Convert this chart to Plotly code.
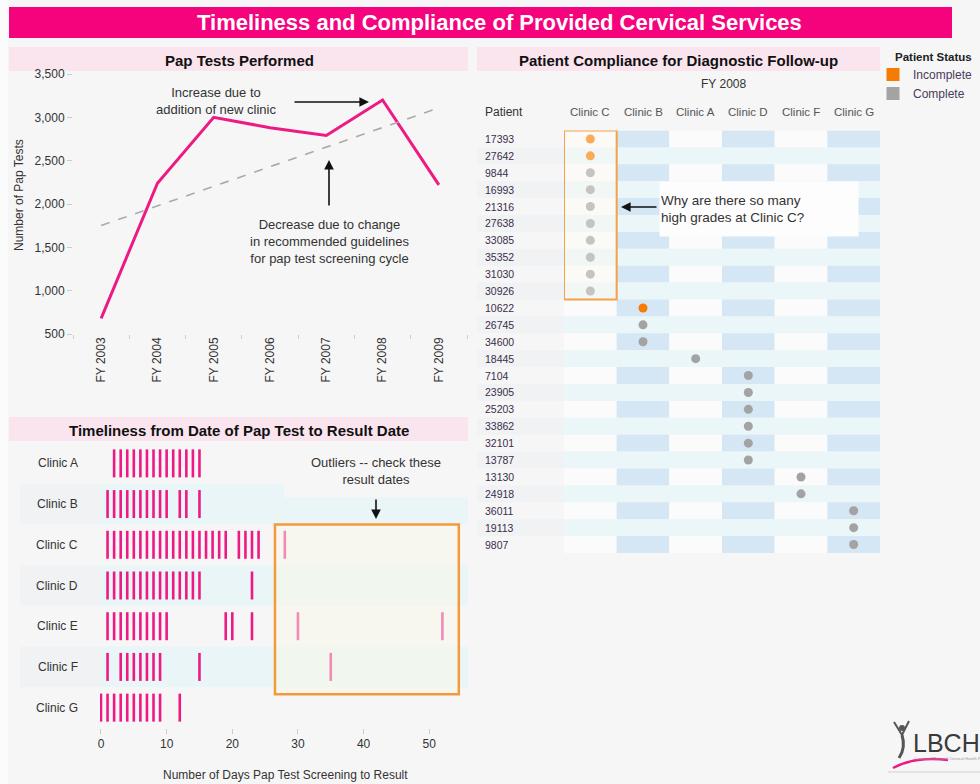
import plotly.graph_objects as go
import numpy as np

W, H = 980, 784


def X(px):
    return px / W


def Y(py):
    return 1 - py / H


# ---------------- DATA ----------------
fiscal_years = ["FY 2003", "FY 2004", "FY 2005", "FY 2006", "FY 2007", "FY 2008", "FY 2009"]
pap_tests = [680, 2240, 3000, 2880, 2790, 3200, 2220]

timeliness_clinics = ["Clinic A", "Clinic B", "Clinic C", "Clinic D", "Clinic E", "Clinic F", "Clinic G"]
days_clinic_a = [2, 3, 4, 5, 6, 7, 8, 9, 10, 11, 12, 13, 14, 15]
days_clinic_b = [1, 2, 3, 4, 5, 6, 7, 8, 9, 10, 12, 13, 15]
days_clinic_c = [1, 2, 3, 4, 5, 6, 7, 8, 9, 10, 11, 12, 13, 14, 15, 16, 17, 18, 19, 21, 22, 23, 24, 28]
days_clinic_d = [1, 2, 3, 4, 5, 6, 7, 8, 9, 10, 11, 12, 13, 14, 15, 23]
days_clinic_e = [1, 2, 3, 4, 5, 6, 7, 8, 9, 10, 19, 20, 23, 30, 52]
days_clinic_f = [1, 3, 4, 5, 6, 7, 8, 9, 15, 35]
days_clinic_g = [0, 1, 2, 3, 4, 5, 6, 7, 8, 9, 12]
days_by_clinic = [days_clinic_a, days_clinic_b, days_clinic_c, days_clinic_d,
                  days_clinic_e, days_clinic_f, days_clinic_g]
day_ticks = [0, 10, 20, 30, 40, 50]

compliance_clinics = ["Clinic C", "Clinic B", "Clinic A", "Clinic D", "Clinic F", "Clinic G"]
patients = ["17393", "27642", "9844", "16993", "21316", "27638", "33085", "35352", "31030", "30926",
            "10622", "26745", "34600", "18445", "7104", "23905", "25203", "33862", "32101", "13787",
            "13130", "24918", "36011", "19113", "9807"]
patient_clinic = ["Clinic C", "Clinic C", "Clinic C", "Clinic C", "Clinic C", "Clinic C", "Clinic C",
                  "Clinic C", "Clinic C", "Clinic C", "Clinic B", "Clinic B", "Clinic B", "Clinic A",
                  "Clinic D", "Clinic D", "Clinic D", "Clinic D", "Clinic D", "Clinic D",
                  "Clinic F", "Clinic F", "Clinic G", "Clinic G", "Clinic G"]
patient_status = ["Incomplete", "Incomplete", "Complete", "Complete", "Complete", "Complete", "Complete",
                  "Complete", "Complete", "Complete", "Incomplete", "Complete", "Complete", "Complete",
                  "Complete", "Complete", "Complete", "Complete", "Complete", "Complete",
                  "Complete", "Complete", "Complete", "Complete", "Complete"]
status_colors = {"Incomplete": "#F57C00", "Complete": "#A3A3A3"}

# ---------------- STYLE ----------------
FONT = "Liberation Sans, Arial, sans-serif"
PANEL_BG = "#F6F6F6"
HEADER_PINK = "#FAE5EF"
MAGENTA = "#EE1A84"
TXT = "#333333"

fig = go.Figure()

# ---- Pap tests line chart ----
fig.add_trace(go.Scatter(
    x=fiscal_years, y=pap_tests, mode="lines",
    line=dict(color=MAGENTA, width=3), xaxis="x", yaxis="y", showlegend=False))
idx = np.arange(len(pap_tests))
slope, intercept = np.polyfit(idx, pap_tests, 1)
trend = slope * idx + intercept
fig.add_trace(go.Scatter(
    x=[fiscal_years[0], fiscal_years[-1]], y=[trend[0], trend[-1]], mode="lines",
    line=dict(color="#AAAAAA", width=1.6, dash="dash"), xaxis="x", yaxis="y", showlegend=False))

# ---- Timeliness strip chart ----
strip_x, strip_y = [], []
for clinic, days in zip(timeliness_clinics, days_by_clinic):
    strip_x += days
    strip_y += [clinic] * len(days)
fig.add_trace(go.Scatter(
    x=strip_x, y=strip_y, mode="markers",
    marker=dict(symbol="line-ns", size=20, line=dict(color=MAGENTA, width=2.6)),
    xaxis="x2", yaxis="y2", showlegend=False))

# ---- Patient compliance dots ----
for status in ["Incomplete", "Complete"]:
    xs = [c for c, s in zip(patient_clinic, patient_status) if s == status]
    ys = [p for p, s in zip(patients, patient_status) if s == status]
    fig.add_trace(go.Scatter(
        x=xs, y=ys, mode="markers",
        marker=dict(symbol="circle", size=9, color=status_colors[status]),
        xaxis="x3", yaxis="y3", showlegend=False))
    fig.add_trace(go.Scatter(
        x=[None], y=[None], mode="markers", name=status,
        marker=dict(symbol="square", size=13, color=status_colors[status]),
        xaxis="x3", yaxis="y3", showlegend=True))

shapes = []
annotations = []


def ann(text, x, y, size=12, color=TXT, xref="paper", yref="paper", xanchor="center", yanchor="middle", **kw):
    d = dict(text=text, x=x, y=y, xref=xref, yref=yref, xanchor=xanchor, yanchor=yanchor,
             showarrow=False, font=dict(size=size, color=color, family=FONT))
    d.update(kw)
    annotations.append(d)


def arrow(hx, hy, ax, ay):
    annotations.append(dict(text="", x=X(hx), y=Y(hy), xref="paper", yref="paper", showarrow=True,
                            ax=ax, ay=ay, arrowhead=2, arrowsize=1.2, arrowwidth=1.6, arrowcolor="#111"))


# page background pieces
shapes.append(dict(type="rect", xref="paper", yref="paper", x0=0, x1=X(8), y0=0, y1=1,
                   fillcolor="#FBFBFB", line=dict(width=0), layer="below"))
# title bar
shapes.append(dict(type="rect", xref="paper", yref="paper", x0=X(9), x1=X(952), y0=Y(38), y1=Y(7),
                   fillcolor="#F5037D", line=dict(width=0), layer="below"))
ann("<b>Timeliness and Compliance of Provided Cervical Services</b>", X(499), Y(23), size=22, color="white")

# panel headers
for (x0, x1, y0, y1, title, cx) in [
    (9, 468, 47, 71, "Pap Tests Performed", 239),
    (477, 880, 47, 71, "Patient Compliance for Diagnostic Follow-up", 678),
    (9, 468, 417, 441, "Timeliness from Date of Pap Test to Result Date", 239),
]:
    shapes.append(dict(type="rect", xref="paper", yref="paper", x0=X(x0), x1=X(x1), y0=Y(y1), y1=Y(y0),
                       fillcolor=HEADER_PINK, line=dict(width=0), layer="below"))
    ann("<b>" + title + "</b>", X(cx), Y((y0 + y1) / 2 + 1), size=15, color="#111111")

# ---- top-left annotations ----
ann("Number of Pap Tests", X(19), Y(195), size=12, textangle=-90)
ann("Increase due to<br>addition of new clinic", X(216), Y(101), size=13)
arrow(369, 102, -76, 0)
ann("Decrease due to change<br>in recommended guidelines<br>for pap test screening cycle", X(329), Y(241), size=13)
arrow(329, 160, 0, 47)

# ---- bottom-left strip chart decorations ----
for i, clinic in enumerate(timeliness_clinics):
    if i % 2 == 1:
        shapes.append(dict(type="rect", xref="x2 domain", yref="y2", x0=0, x1=1, y0=i - 0.5, y1=i + 0.5,
                           fillcolor="#E9F5F7", line=dict(width=0), layer="below"))
        shapes.append(dict(type="rect", xref="paper", yref="y2", x0=X(20), x1=X(100), y0=i - 0.5, y1=i + 0.5,
                           fillcolor="#F0F2F3", line=dict(width=0), layer="below"))
    ann(clinic, X(80), i, size=12, yref="y2", xanchor="right")
# outlier highlight box
shapes.append(dict(type="rect", xref="x2", yref="y2", x0=26.5, x1=54.5, y0=1.5, y1=5.67,
                   fillcolor="rgba(250,248,232,0.5)", line=dict(color="#F39A3A", width=2.5), layer="above"))
ann("Outliers -- check these<br>result dates", X(376), Y(471), size=13, width=182, height=50, bgcolor=PANEL_BG)
arrow(376, 519, 0, -21)
ann("Number of Days Pap Test Screening to Result", X(285), Y(775), size=12)

# ---- right grid decorations ----
for i, p in enumerate(patients):
    if i % 2 == 0:
        for j, c in enumerate(compliance_clinics):
            col = "#D5E6F4" if j % 2 == 1 else "#FBFBFB"
            shapes.append(dict(type="rect", xref="x3", yref="y3", x0=j - 0.5, x1=j + 0.5,
                               y0=i - 0.5, y1=i + 0.5, fillcolor=col, line=dict(width=0), layer="below"))
    else:
        shapes.append(dict(type="rect", xref="x3", yref="y3", x0=-0.5, x1=len(compliance_clinics) - 0.5,
                           y0=i - 0.5, y1=i + 0.5, fillcolor="#EAF6F8", line=dict(width=0), layer="below"))
        shapes.append(dict(type="rect", xref="paper", yref="y3", x0=X(477), x1=X(564),
                           y0=i - 0.5, y1=i + 0.5, fillcolor="#F0F2F3", line=dict(width=0), layer="below"))
    ann(p, X(483), i, size=10.5, color="#3A2E4A", yref="y3", xanchor="left")
for j, c in enumerate(compliance_clinics):
    ann(c, j, Y(112), size=11.5, color="#555555", xref="x3")
ann("Patient", X(483), Y(112), size=12, xanchor="left")
ann("FY 2008", X(723), Y(84), size=12)
# Clinic C highlight box
c_rows = [i for i, c in enumerate(patient_clinic) if c == "Clinic C"]
c_col = compliance_clinics.index("Clinic C")
shapes.append(dict(type="rect", xref="x3", yref="y3", x0=c_col - 0.5, x1=c_col + 0.5,
                   y0=min(c_rows) - 0.5, y1=max(c_rows) + 0.5,
                   fillcolor="rgba(252,250,240,0.38)", line=dict(color="#F5A04A", width=2), layer="above"))
ann("Why are there so many<br>high grades at Clinic C?", X(759), Y(209), size=13.5, width=196, height=52,
    align="left", bgcolor="#FDFDFD")
arrow(621, 207, 37, 0)

# ---- legend title ----
ann("<b>Patient Status</b>", X(893), Y(57), size=11.5, color="#222", xanchor="left")

# ---- logo ----
ann("LBCHP", X(911), Y(743), size=25, color="#3A3A3A", xanchor="left")
ann("Louisiana Breast &amp; Cervical Health Program", X(913), Y(758), size=4, color="#999", xanchor="left")
shapes.append(dict(type="path", xref="paper", yref="paper",
                   path=f"M {X(893)},{Y(768)} Q {X(915)},{Y(756)} {X(948)},{Y(760)}",
                   line=dict(color=MAGENTA, width=2.5), layer="above"))
shapes.append(dict(type="path", xref="paper", yref="paper",
                   path=f"M {X(894)},{Y(722)} L {X(902)},{Y(735)} L {X(909)},{Y(721)}",
                   line=dict(color="#555", width=2), layer="above"))
shapes.append(dict(type="path", xref="paper", yref="paper",
                   path=f"M {X(902)},{Y(735)} Q {X(906)},{Y(748)} {X(899)},{Y(758)}",
                   line=dict(color="#555", width=3), layer="above"))
shapes.append(dict(type="circle", xref="paper", yref="paper", x0=X(899), x1=X(905), y0=Y(731), y1=Y(725),
                   fillcolor="#555", line=dict(width=0), layer="above"))
shapes.append(dict(type="line", xref="paper", yref="paper", x0=X(888), x1=1, y0=Y(772), y1=Y(772),
                   line=dict(color="#D0D0D0", width=1)))

fig.update_layout(
    width=W, height=H, autosize=False,
    margin=dict(l=0, r=0, t=0, b=0, pad=0, autoexpand=False),
    paper_bgcolor=PANEL_BG, plot_bgcolor="rgba(0,0,0,0)",
    font=dict(family=FONT, color=TXT, size=12),
    shapes=shapes, annotations=annotations,
    hovermode=False,
    legend=dict(x=X(873), y=Y(60), xanchor="left", yanchor="top",
                font=dict(size=12, color="#4A3A60", family=FONT),
                bgcolor="rgba(0,0,0,0)", tracegroupgap=0, itemwidth=30),
    xaxis=dict(domain=[X(73), X(467)], type="category", categoryorder="array", categoryarray=fiscal_years,
               range=[-0.5, 6.5], tickson="boundaries", ticks="outside", ticklen=4, tickcolor="#CCCCCC",
               tickangle=-90, tickfont=dict(size=12, color=TXT), showgrid=False, showline=False,
               zeroline=False, anchor="y"),
    yaxis=dict(domain=[Y(334), Y(74)], range=[500, 3500], tickvals=[500, 1000, 1500, 2000, 2500, 3000, 3500],
               tickformat=",", ticks="outside", ticklen=5, tickcolor="#CCCCCC",
               tickfont=dict(size=12, color=TXT), showgrid=False, showline=False, zeroline=False, anchor="x"),
    xaxis2=dict(domain=[X(100), X(468)], range=[-0.15, 55.9], tickvals=day_ticks, ticks="outside",
                ticklen=5, tickcolor="#CCCCCC", tickfont=dict(size=12, color=TXT), showgrid=False,
                showline=False, zeroline=False, anchor="y2"),
    yaxis2=dict(domain=[Y(728), Y(443)], type="category", categoryorder="array",
                categoryarray=timeliness_clinics, range=[6.5, -0.5], showticklabels=False, ticks="",
                showgrid=False, showline=False, zeroline=False, anchor="x2"),
    xaxis3=dict(domain=[X(564), X(880)], type="category", categoryorder="array",
                categoryarray=compliance_clinics, range=[-0.5, 5.5], showticklabels=False, ticks="",
                showgrid=False, showline=False, zeroline=False, anchor="y3"),
    yaxis3=dict(domain=[Y(553), Y(130.5)], type="category", categoryorder="array",
                categoryarray=patients, range=[24.5, -0.5], showticklabels=False, ticks="",
                showgrid=False, showline=False, zeroline=False, anchor="x3"),
)

fig.write_html("out.html", config={"displayModeBar": False},
               post_script="document.body.style.margin='0';")
